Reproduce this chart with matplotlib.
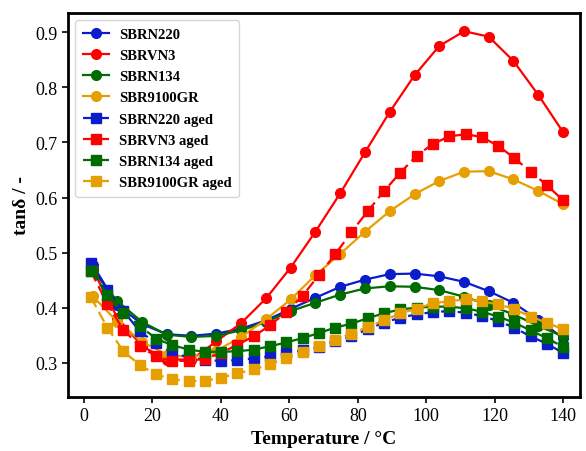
import matplotlib
matplotlib.use("Agg")
import matplotlib.pyplot as plt

# Temperaturas (°C): curvas originales y envejecidas
temp_orig = [2.5, 9.7, 17.0, 24.2, 31.4, 38.7, 45.9, 53.2, 60.4, 67.6,
             74.9, 82.1, 89.3, 96.6, 103.8, 111.1, 118.3, 125.5, 132.8, 140.0]
temp_aged = [2.0, 6.8, 11.5, 16.3, 21.0, 25.8, 30.6, 35.3, 40.1, 44.8,
             49.6, 54.3, 59.1, 63.9, 68.6, 73.4, 78.1, 82.9, 87.7, 92.4,
             97.2, 101.9, 106.7, 111.5, 116.2, 121.0, 125.7, 130.5, 135.2, 140.0]

# tan delta, muestras originales
sbrn220 = [0.478, 0.405, 0.370, 0.352, 0.349, 0.353, 0.362, 0.377, 0.398, 0.418,
           0.438, 0.451, 0.461, 0.462, 0.457, 0.447, 0.430, 0.409, 0.378, 0.345]
sbrvn3 = [0.470, 0.382, 0.330, 0.306, 0.306, 0.339, 0.372, 0.417, 0.473, 0.538,
          0.608, 0.682, 0.755, 0.822, 0.875, 0.902, 0.892, 0.848, 0.786, 0.719]
sbrn134 = [0.468, 0.412, 0.374, 0.351, 0.347, 0.349, 0.359, 0.374, 0.394, 0.409,
           0.424, 0.435, 0.439, 0.438, 0.432, 0.420, 0.405, 0.388, 0.367, 0.348]
sbr9100gr = [0.421, 0.375, 0.338, 0.315, 0.310, 0.322, 0.347, 0.379, 0.415, 0.459,
             0.498, 0.538, 0.575, 0.606, 0.630, 0.647, 0.648, 0.633, 0.612, 0.588]

# tan delta, muestras envejecidas
sbrn220_aged = [0.482, 0.433, 0.394, 0.357, 0.336, 0.318, 0.310, 0.306, 0.303, 0.305,
                0.308, 0.312, 0.317, 0.323, 0.329, 0.339, 0.348, 0.361, 0.373, 0.382,
                0.388, 0.392, 0.394, 0.391, 0.385, 0.376, 0.364, 0.348, 0.335, 0.318]
sbrvn3_aged = [0.466, 0.407, 0.360, 0.330, 0.312, 0.303, 0.304, 0.307, 0.318, 0.333,
               0.348, 0.368, 0.392, 0.422, 0.459, 0.497, 0.537, 0.575, 0.612, 0.645,
               0.676, 0.697, 0.711, 0.715, 0.710, 0.694, 0.672, 0.647, 0.623, 0.595]
sbrn134_aged = [0.467, 0.424, 0.391, 0.367, 0.344, 0.332, 0.324, 0.320, 0.320, 0.321,
                0.324, 0.330, 0.337, 0.345, 0.354, 0.364, 0.371, 0.381, 0.390, 0.397,
                0.400, 0.402, 0.402, 0.399, 0.393, 0.384, 0.373, 0.359, 0.345, 0.329]
sbr9100gr_aged = [0.419, 0.364, 0.321, 0.296, 0.279, 0.270, 0.267, 0.267, 0.273, 0.281,
                  0.288, 0.297, 0.309, 0.320, 0.330, 0.341, 0.353, 0.365, 0.377, 0.390,
                  0.398, 0.408, 0.412, 0.415, 0.412, 0.406, 0.398, 0.384, 0.373, 0.361]

azul = "#0a1ccc"
rojo = "#ff0000"
verde = "#006b00"
naranja = "#e69f00"

plt.rcParams["font.family"] = ["Liberation Serif", "DejaVu Serif"]

fig = plt.figure(figsize=(5.86, 4.52), dpi=100)
ax = fig.add_axes([0.116, 0.1195, 0.874, 0.8495])

estilo_c = dict(marker="o", markersize=7, linewidth=1.6, linestyle="-")
estilo_s = dict(marker="s", markersize=7, linewidth=1.6, linestyle=(0, (5, 2.5)))

ax.plot(temp_orig, sbrn220, color=azul, label="SBRN220", **estilo_c)
ax.plot(temp_orig, sbrvn3, color=rojo, label="SBRVN3", **estilo_c)
ax.plot(temp_orig, sbrn134, color=verde, label="SBRN134", **estilo_c)
ax.plot(temp_orig, sbr9100gr, color=naranja, label="SBR9100GR", **estilo_c)
ax.plot(temp_aged, sbrn220_aged, color=azul, label="SBRN220 aged", **estilo_s)
ax.plot(temp_aged, sbrvn3_aged, color=rojo, label="SBRVN3 aged", **estilo_s)
ax.plot(temp_aged, sbrn134_aged, color=verde, label="SBRN134 aged", **estilo_s)
ax.plot(temp_aged, sbr9100gr_aged, color=naranja, label="SBR9100GR aged", **estilo_s)

ax.set_xlim(-4.7, 145)
ax.set_ylim(0.238, 0.935)
ax.set_xticks([0, 20, 40, 60, 80, 100, 120, 140])
ax.set_yticks([0.3, 0.4, 0.5, 0.6, 0.7, 0.8, 0.9])
ax.tick_params(labelsize=13, width=1.2, length=4)
for lado in ax.spines.values():
    lado.set_linewidth(2)

ax.set_xlabel("Temperature / °C", fontsize=14, fontweight="bold")
ax.set_ylabel("tanδ / -", fontsize=14, fontweight="bold")

ax.legend(loc="upper left", prop={"weight": "bold", "size": 10.5},
          handlelength=1.8, handletextpad=0.7, labelspacing=0.55, borderpad=0.5)

fig.savefig("out.png", dpi=100)
